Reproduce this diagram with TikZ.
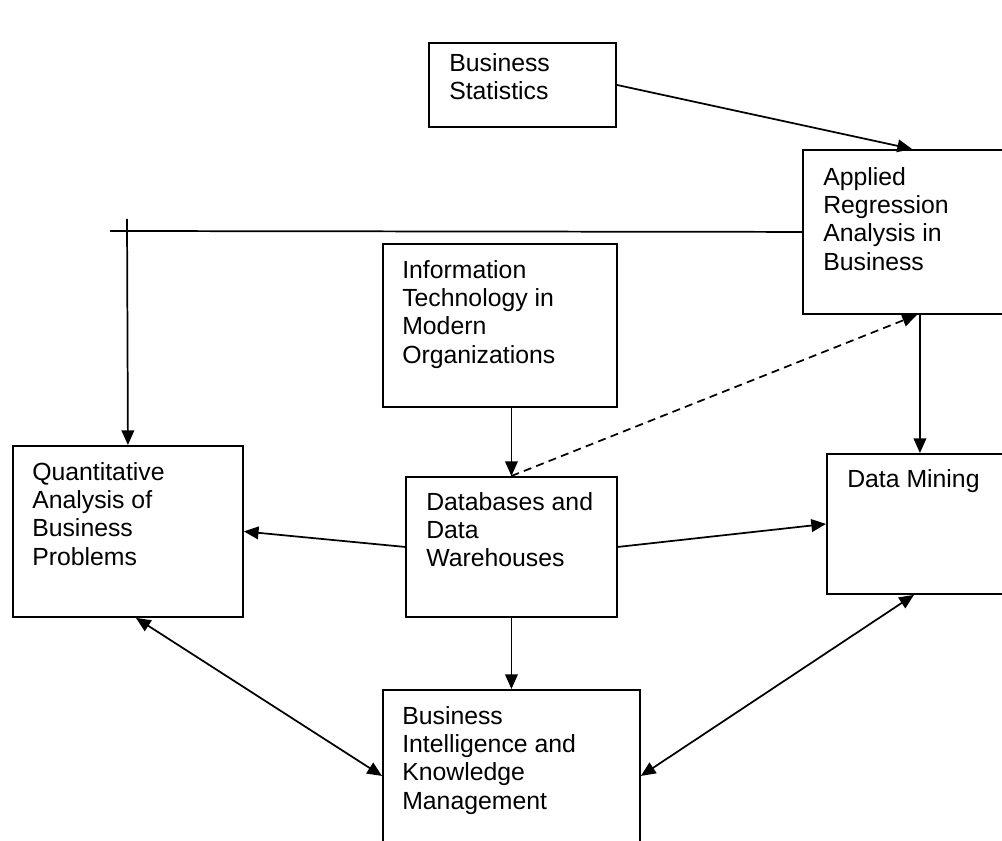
\documentclass[tikz,border=0pt]{standalone}
\usepackage{fontspec}
\setmainfont{Liberation Sans}
\usetikzlibrary{arrows.meta,calc}
\begin{document}
\begin{tikzpicture}[x=0.75pt,y=-0.75pt,
  box/.style={draw,line width=1.4pt,rectangle,inner sep=0pt,anchor=north west},
  txt/.style={anchor=north west,inner sep=0pt,align=left,font=\fontsize{18.6}{21.2}\selectfont},
  conn/.style={line width=1.3pt},
  tip/.tip={Triangle[length=11pt,width=9.5pt]},
  arr/.style={conn,-tip},
  darr/.style={conn,tip-tip},
  dsh/.style={conn,-tip,dash pattern=on 6pt off 4pt}]
\clip (0,0) rectangle (1002,841);
\fill[white] (0,0) rectangle (1002,841);
% boxes
\node[box,minimum width=140.25pt,minimum height=63pt] (bs) at (428,42) {};
\node[box,minimum width=171pt,minimum height=123pt] (ar) at (802,149) {};
\node[box,minimum width=175.5pt,minimum height=122.25pt] (it) at (382,243) {};
\node[box,minimum width=172.5pt,minimum height=128.25pt] (q) at (12,445) {};
\node[box,minimum width=158.25pt,minimum height=105pt] (db) at (405,476) {};
\node[box,minimum width=139.5pt,minimum height=105pt] (dm) at (826,453) {};
\node[box,minimum width=192.75pt,minimum height=129pt] (bi) at (382,689) {};
% texts
\node[txt] (bst) at (449,53) {Business\\Statistics};
\node[txt] (art) at (823,167) {Applied\\Regression\\Analysis in\\Business};
\node[txt] (itt) at (402,260) {Information\\Technology in\\Modern\\Organizations};
\node[txt] (qt) at (32,462) {Quantitative\\Analysis of\\Business\\Problems};
\node[txt] (dbt) at (426,492) {Databases and\\Data\\Warehouses};
\node[txt] (dmt) at (847,469) {Data Mining};
\node[txt] (bit) at (402,706) {Business\\Intelligence and\\Knowledge\\Management};
% free ends
\coordinate (hl) at (110,231);
\coordinate (vt) at (127,219);
% connectors
\draw[arr] (bs.east) -- ($(ar.north west)+(110,0)$);
\draw[conn] (ar.west) -- (hl);
\draw[arr] (vt) -- (q.north);
\draw[arr] (db.north |- it.south) -- (db.north);
\draw[dsh] (db.north) -- (ar.south);
\draw[arr] ($(ar.south)+(3,0)$) -- ($(dm.north)$);
\draw[arr] (db.west) -- (q.east);
\draw[arr] (db.east) -- (dm.west);
\draw[arr] (db.south) -- (db.south |- bi.north);
\draw[darr] ($(q.south)+(8,0)$) -- (bi.west);
\draw[darr] (bi.east) -- ($(dm.south)+(-6,0)$);
\end{tikzpicture}
\end{document}
